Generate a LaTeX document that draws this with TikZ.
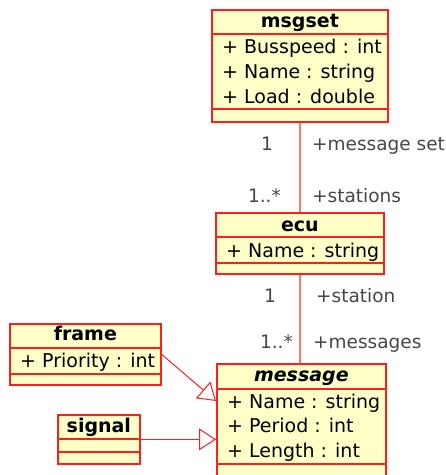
\documentclass[tikz,border=0pt]{standalone}
\usepackage{fontspec}
\setmainfont{DejaVu Sans}
\usetikzlibrary{arrows.meta,positioning,calc}
\definecolor{umlfill}{RGB}{255,255,200}
\definecolor{umlline}{RGB}{255,30,30}
\definecolor{rolegray}{RGB}{70,70,70}

\begin{document}
\begin{tikzpicture}[x=1pt,y=-1pt,
    classbox/.style={draw=umlline,line width=1.7pt,fill=umlfill,anchor=north west,inner sep=0pt},
    sep/.style={draw=umlline,line width=1.4pt},
    title/.style={anchor=base,inner sep=0pt,font=\fontsize{19}{25}\selectfont\bfseries},
    attr/.style={anchor=base west,inner sep=0pt,font=\fontsize{19}{25}\selectfont},
    role/.style={inner sep=0pt,text=rolegray,font=\fontsize{18.5}{24}\selectfont},
    assoc/.style={draw=umlline!60!white,line width=1.8pt},
    gen/.style={draw=umlline,line width=1pt,-{Triangle[open,length=17pt,width=22pt,fill=white]}}]
    \useasboundingbox (0,0) rectangle (446,475);

    \node[classbox,minimum width=176,minimum height=112] (msgset) at (211,9) {};
    \draw[sep] ($(msgset.north west)+(0,25)$) -- ($(msgset.north east)+(0,25)$);
    \draw[sep] ($(msgset.north west)+(0,100)$) -- ($(msgset.north east)+(0,100)$);
    \node[title] (msgset-name) at ($(msgset.north)+(0,18)$) {msgset};
    \node[attr] (msgset-a1) at ($(msgset.north west)+(11,44)$) {+ Busspeed : int};
    \node[attr] (msgset-a2) at ($(msgset.north west)+(11,69)$) {+ Name : string};
    \node[attr] (msgset-a3) at ($(msgset.north west)+(11,94)$) {+ Load : double};

    \node[classbox,minimum width=168,minimum height=61] (ecu) at (215,212) {};
    \draw[sep] ($(ecu.north west)+(0,25)$) -- ($(ecu.north east)+(0,25)$);
    \draw[sep] ($(ecu.north west)+(0,51)$) -- ($(ecu.north east)+(0,51)$);
    \node[title] (ecu-name) at ($(ecu.north)+(0,19)$) {ecu};
    \node[attr] (ecu-a1) at ($(ecu.north west)+(11,45)$) {+ Name : string};

    \node[classbox,minimum width=169,minimum height=116] (message) at (216,363) {};
    \draw[sep] ($(message.north west)+(0,26)$) -- ($(message.north east)+(0,26)$);
    \draw[sep] ($(message.north west)+(0,101)$) -- ($(message.north east)+(0,101)$);
    \node[title,font=\fontsize{19}{25}\selectfont\bfseries\itshape] (message-name) at ($(message.north)+(0,18)$) {message};
    \node[attr] (message-a1) at ($(message.north west)+(11,45)$) {+ Name : string};
    \node[attr] (message-a2) at ($(message.north west)+(11,69)$) {+ Period : int};
    \node[attr] (message-a3) at ($(message.north west)+(11,94)$) {+ Length : int};

    \node[classbox,minimum width=151,minimum height=61] (frame) at (9,323) {};
    \draw[sep] ($(frame.north west)+(0,25)$) -- ($(frame.north east)+(0,25)$);
    \draw[sep] ($(frame.north west)+(0,51)$) -- ($(frame.north east)+(0,51)$);
    \node[title] (frame-name) at ($(frame.north)+(0,17)$) {frame};
    \node[attr] (frame-a1) at ($(frame.north west)+(11,44)$) {+ Priority : int};

    \node[classbox,minimum width=82,minimum height=49] (signal) at (57,414) {};
    \draw[sep] ($(signal.north west)+(0,25)$) -- ($(signal.north east)+(0,25)$);
    \draw[sep] ($(signal.north west)+(0,38)$) -- ($(signal.north east)+(0,38)$);
    \node[title] (signal-name) at ($(signal.north)+(0,18)$) {signal};

    \draw[assoc] (msgset.south) -- (msgset.south|-ecu.north);
    \node[role,anchor=base east] (ms-mult) at (273,150) {1};
    \node[role,anchor=base west] (ms-role) at (312,150) {+message set};
    \node[role,anchor=base east] (st-mult) at (281,202) {1..*};
    \node[role,anchor=base west] (st-role) at (312,202) {+stations};

    \draw[assoc] (ecu.south) -- (ecu.south|-message.north);
    \node[role,anchor=base east] (sn-mult) at (276,302) {1};
    \node[role,anchor=base west] (sn-role) at (316,302) {+station};
    \node[role,anchor=base east] (mg-mult) at (293,348) {1..*};
    \node[role,anchor=base west] (mg-role) at (313,348) {+messages};

    \draw[gen] (frame.east) -- ($(message.north west)+(0,38)$);
    \draw[gen] (signal.east) -- (signal.east-|message.west);
\end{tikzpicture}
\end{document}
